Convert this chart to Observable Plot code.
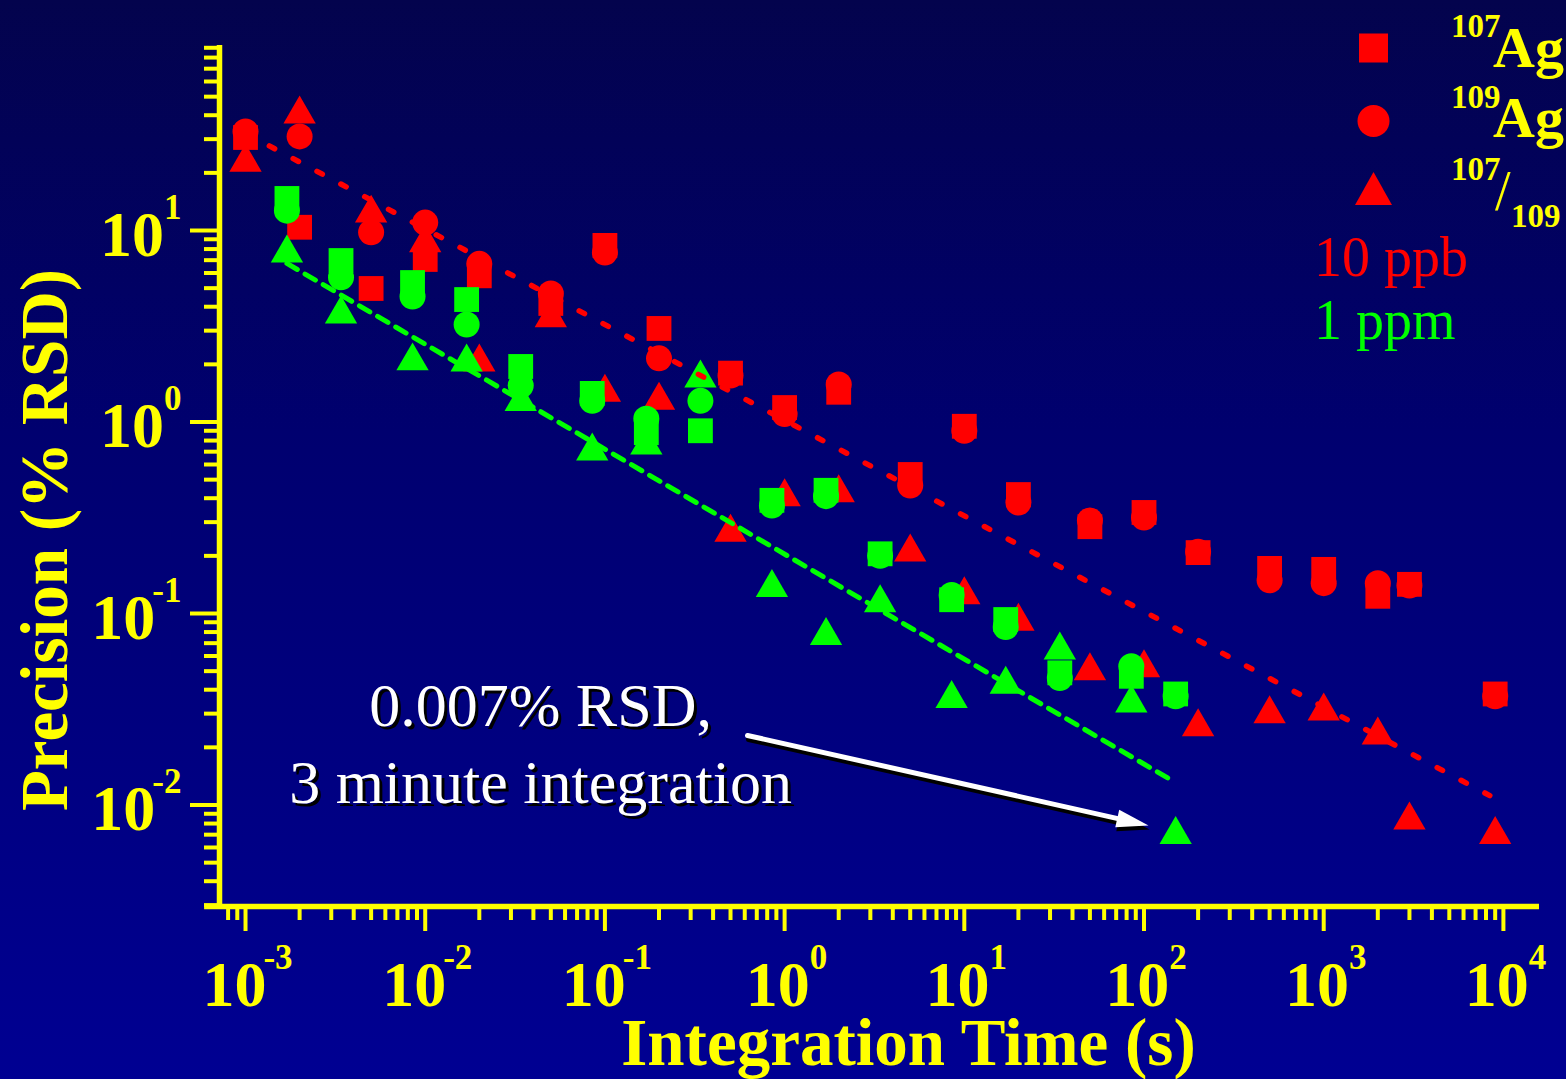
<!DOCTYPE html>
<html>
<head>
<meta charset="utf-8">
<script src="https://cdn.jsdelivr.net/npm/d3@7"></script>
<script src="https://cdn.jsdelivr.net/npm/@observablehq/plot@0.6"></script>
<style>
  html, body { margin: 0; padding: 0; }
  body {
    width: 1566px; height: 1079px; overflow: hidden; position: relative;
    background: linear-gradient(to bottom, #03034d 0%, #00006f 40%, #000092 100%);
    font-family: "Liberation Serif", "Times New Roman", serif;
  }
  #chart { position: absolute; left: 0; top: 0; }
  #legend { position: absolute; left: 0; top: 0; pointer-events: none; }
</style>
</head>
<body>
<div id="chart"></div>
<svg id="legend" width="1566" height="1079" xmlns="http://www.w3.org/2000/svg"></svg>
<script>
// ---------- data ----------
const timesRed   = [0.001, 0.002, 0.005, 0.01, 0.02, 0.05, 0.1, 0.2, 0.5, 1, 2, 5, 10, 20, 50, 100, 200, 500, 1000, 2000, 3000, 9000];
const red107     = [30.6, 10.4, 4.98, 7.06, 5.8, 4.16, 8.36, 3.08, 1.8, 1.19, 1.43, 0.532, 0.95, 0.418, 0.284, 0.337, 0.208, 0.172, 0.17, 0.123, 0.142, 0.038];
const red109     = [32.9, 31, 9.8, 11, 6.7, 4.69, 7.67, 2.15, 1.75, 1.1, 1.57, 0.466, 0.9, 0.38, 0.306, 0.317, 0.21, 0.149, 0.144, 0.144, 0.14, 0.037];
const redRatio   = [24, 42.8, 13, 9.1, 2.17, 3.69, 1.51, 1.37, 0.28, 0.43, 0.45, 0.221, 0.132, 0.096, 0.053, 0.055, 0.027, 0.0316, 0.0327, 0.0245, 0.0088, 0.0074];

const timesGreen = [0.0017, 0.0034, 0.0085, 0.017, 0.034, 0.085, 0.17, 0.34, 0.85, 1.7, 3.4, 8.5, 17, 34, 85, 150];
const green107   = [14.7, 6.97, 5.35, 4.36, 1.95, 1.41, 0.88, 0.9, 0.39, 0.44, 0.205, 0.118, 0.093, 0.049, 0.047, 0.038];
const green109   = [12.7, 5.7, 4.52, 3.23, 1.55, 1.29, 1.04, 1.29, 0.366, 0.41, 0.2, 0.125, 0.085, 0.046, 0.053, 0.037];
const greenRatio = [8.05, 3.87, 2.2, 2.17, 1.35, 0.745, 0.8, 1.79, 0.144, 0.081, 0.12, 0.038, 0.045, 0.068, 0.036, 0.0074];

// trend lines (end points)
const redTrend   = [{t: 0.001, v: 32.2}, {t: 8400, v: 0.0112}];
const greenTrend = [{t: 0.0017, v: 6.73}, {t: 140, v: 0.0136}];

// axis ticks and labels
const xMajor = [1e-3, 1e-2, 1e-1, 1, 1e1, 1e2, 1e3, 1e4];
const yMajor = [1e-2, 1e-1, 1, 1e1];
const xTitle = "Integration Time (s)";
const yTitle = "Precision (% RSD)";

// annotation
const noteText = "0.007% RSD,\n3 minute integration";
const note = [{t: 0.04382, v: 0.0103}];
const noteArrow = [{x1: 0.6215, y1: 0.02307, x2: 105.9, y2: 0.00782}];

// legend
const legendItems = ["107|Ag", "109|Ag", "107|/|109"];
const legendSeries = ["10 ppb", "1 ppm"];

// ---------- chart ----------
const RED = "#ff0000", GREEN = "#00ff00", YELLOW = "#ffff00";
const xDomain = [7.165e-4, 15880];
const yDomain = [0.002951, 92.5];
const xAxisStart = 5.92e-4;

function minorTicks(lo, hi) {
  const out = [];
  for (let e = -5; e <= 5; e++) for (let k = 2; k <= 9; k++) {
    const v = +(k * Math.pow(10, e)).toPrecision(6);
    if (v >= lo && v <= hi) out.push(v);
  }
  return out;
}
const xMinor = minorTicks(xDomain[0], xDomain[1]);
const yMinor = minorTicks(yDomain[0], yDomain[1]);

const rows = (times, vals) => times.map((t, i) => ({t, v: vals[i]}));

const arrowHead = {
  draw(context, l, r) {
    context.moveTo(0, -l);
    context.lineTo(-r, 0);
    context.lineTo(r, 0);
    context.closePath();
  }
};

const dotOpts = (fill, symbol, r, extra = {}) => ({x: "t", y: "v", fill, symbol, r, ...extra});

const plot = Plot.plot({
  width: 1566, height: 1079,
  marginLeft: 219, marginRight: 27, marginTop: 45, marginBottom: 173,
  style: {background: "transparent", fontFamily: "'Liberation Serif', 'Times New Roman', serif", overflow: "visible"},
  x: {type: "log", domain: xDomain, label: null},
  y: {type: "log", domain: yDomain, label: null},
  marks: [
    // ticks
    Plot.axisX(xMinor, {anchor: "bottom", tickSize: 14, tickFormat: () => "", stroke: YELLOW, strokeWidth: 4, label: null}),
    Plot.axisX(xMajor, {anchor: "bottom", tickSize: 25, tickFormat: () => "", stroke: YELLOW, strokeWidth: 4, label: null}),
    Plot.axisY(yMinor, {anchor: "left", tickSize: 15, tickFormat: () => "", stroke: YELLOW, strokeWidth: 4, label: null}),
    Plot.axisY(yMajor, {anchor: "left", tickSize: 29, tickFormat: () => "", stroke: YELLOW, strokeWidth: 4, label: null}),
    // axis lines
    Plot.ruleY([yDomain[0]], {x1: xAxisStart, x2: xDomain[1], stroke: YELLOW, strokeWidth: 5.5}),
    Plot.ruleX([xDomain[0]], {y1: yDomain[0], y2: yDomain[1], stroke: YELLOW, strokeWidth: 5.5}),
    // tick labels (exponent after "|")
    Plot.text(xMajor, {x: d => d, frameAnchor: "bottom", text: d => "10|" + Math.round(Math.log10(d)),
      lineAnchor: "bottom", textAnchor: "middle", dy: 99, dx: 2, fontSize: 64, fontWeight: "bold", fill: YELLOW}),
    Plot.text(yMajor, {y: d => d, frameAnchor: "left", text: d => "10|" + Math.round(Math.log10(d)),
      lineAnchor: "bottom", textAnchor: "end", dx: -38, dy: 25, fontSize: 64, fontWeight: "bold", fill: YELLOW}),
    // axis titles
    Plot.text([xTitle], {frameAnchor: "bottom", text: d => d, lineAnchor: "bottom", textAnchor: "middle", dx: 29, dy: 158,
      fontSize: 67, fontWeight: "bold", fill: YELLOW}),
    Plot.text([yTitle], {frameAnchor: "left", text: d => d, rotate: -90, lineAnchor: "bottom", textAnchor: "middle", dx: -153, dy: 64,
      fontSize: 67, fontWeight: "bold", fill: YELLOW}),

    // 10 ppb (red)
    Plot.dot(rows(timesRed, redRatio), dotOpts(RED, "triangle", 12, {dy: 4.6})),
    Plot.dot(rows(timesRed, red109), dotOpts(RED, "circle", 13)),
    Plot.dot(rows(timesRed, red107), dotOpts(RED, "square", 14)),
    // 1 ppm (green)
    Plot.dot(rows(timesGreen, greenRatio), dotOpts(GREEN, "triangle", 12, {dy: 4.6})),
    Plot.dot(rows(timesGreen, green109), dotOpts(GREEN, "circle", 13)),
    Plot.dot(rows(timesGreen, green107), dotOpts(GREEN, "square", 14)),

    // trend lines
    Plot.line(redTrend, {x: "t", y: "v", stroke: RED, strokeWidth: 5.5, strokeDasharray: "6 21"}),
    Plot.line(greenTrend, {x: "t", y: "v", stroke: GREEN, strokeWidth: 5, strokeDasharray: "12 9"}),

    // annotation text with shadow
    Plot.text(note, {x: "t", y: "v", text: () => noteText, lineAnchor: "bottom", lineHeight: 1.24,
      fontSize: 62, fill: "black", dx: 3, dy: 3}),
    Plot.text(note, {x: "t", y: "v", text: () => noteText, lineAnchor: "bottom", lineHeight: 1.24,
      fontSize: 62, fill: "white"}),
    // annotation arrow with shadow
    Plot.arrow(noteArrow, {x1: "x1", y1: "y1", x2: "x2", y2: "y2", stroke: "black", strokeWidth: 5, headLength: 0, insetEnd: 20, dx: 1, dy: 4}),
    Plot.vector(noteArrow, {x: "x2", y: "y2", length: 32, rotate: 102.6, anchor: "end", r: 9, shape: arrowHead, fill: "black", stroke: "none", dx: 1, dy: 4}),
    Plot.arrow(noteArrow, {x1: "x1", y1: "y1", x2: "x2", y2: "y2", stroke: "white", strokeWidth: 5, headLength: 0, insetEnd: 20}),
    Plot.vector(noteArrow, {x: "x2", y: "y2", length: 32, rotate: 102.6, anchor: "end", r: 9, shape: arrowHead, fill: "white", stroke: "none"})
  ]
});

// superscript exponents on tick labels
const NS = "http://www.w3.org/2000/svg";
plot.querySelectorAll("text").forEach(t => {
  if (!t.textContent.includes("|")) return;
  const [base, exp] = t.textContent.split("|");
  while (t.firstChild) t.removeChild(t.firstChild);
  const a = document.createElementNS(NS, "tspan");
  a.textContent = base;
  const b = document.createElementNS(NS, "tspan");
  b.textContent = exp;
  b.setAttribute("font-size", "35");
  b.setAttribute("dy", "-37");
  if (exp.startsWith("-")) b.setAttribute("dx", "-3");
  t.append(a, b);
});
document.getElementById("chart").append(plot);

// ---------- legend ----------
const lg = document.getElementById("legend");
function el(name, attrs, text) {
  const e = document.createElementNS(NS, name);
  for (const k in attrs) e.setAttribute(k, attrs[k]);
  if (text != null) e.textContent = text;
  lg.appendChild(e);
  return e;
}
const lx = 1373.5;
el("rect", {x: lx - 14.5, y: 33.5, width: 29, height: 29, fill: RED});
el("circle", {cx: lx, cy: 121, r: 16, fill: RED});
el("polygon", {points: `${lx},172 ${lx - 18.5},205 ${lx + 18.5},205`, fill: RED});

const serif = "'Liberation Serif', 'Times New Roman', serif";
const [sup1, base1] = legendItems[0].split("|");
const [sup2, base2] = legendItems[1].split("|");
const [num3, slash3, den3] = legendItems[2].split("|");
el("text", {x: 1451, y: 37, fill: YELLOW, "font-family": serif, "font-size": 33, "font-weight": "bold"}, sup1);
el("text", {x: 1493, y: 67, fill: YELLOW, "font-family": serif, "font-size": 58, "font-weight": "bold"}, base1);
el("text", {x: 1451, y: 108, fill: YELLOW, "font-family": serif, "font-size": 33, "font-weight": "bold"}, sup2);
el("text", {x: 1493, y: 137, fill: YELLOW, "font-family": serif, "font-size": 58, "font-weight": "bold"}, base2);
el("text", {x: 1451, y: 180, fill: YELLOW, "font-family": serif, "font-size": 33, "font-weight": "bold"}, num3);
el("text", {x: 1495, y: 210, fill: YELLOW, "font-family": serif, "font-size": 56}, slash3);
el("text", {x: 1511, y: 227, fill: YELLOW, "font-family": serif, "font-size": 33, "font-weight": "bold"}, den3);
el("text", {x: 1314, y: 276, fill: RED, "font-family": serif, "font-size": 56}, legendSeries[0]);
el("text", {x: 1314, y: 339, fill: GREEN, "font-family": serif, "font-size": 56}, legendSeries[1]);
</script>
</body>
</html>
